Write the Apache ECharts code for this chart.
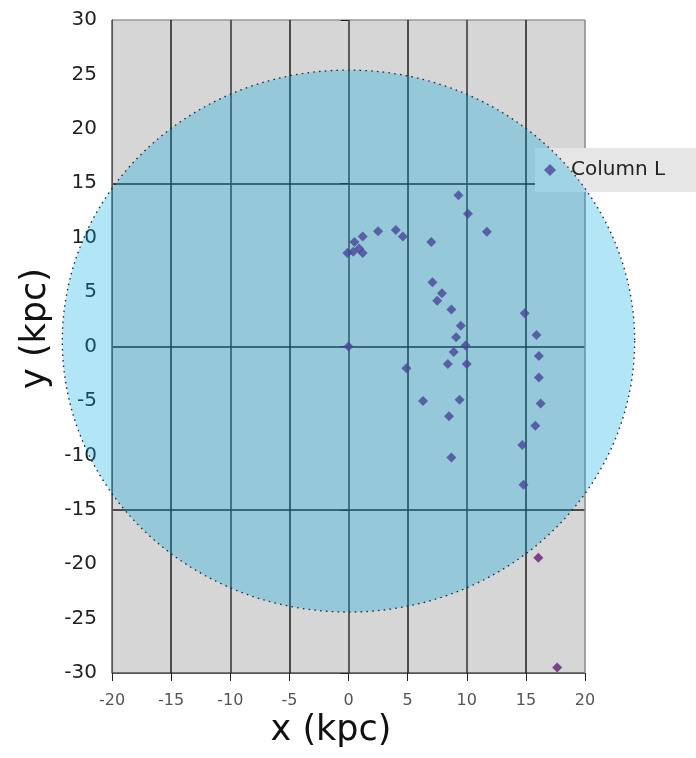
<!DOCTYPE html>
<html>
<head>
<meta charset="utf-8">
<script src="https://cdn.jsdelivr.net/npm/echarts@6/dist/echarts.min.js"></script>
<style>
html,body{margin:0;padding:0;background:#fff;}
#chart{width:696px;height:758px;}
</style>
</head>
<body>
<div id="chart"></div>
<script>
// ---- data ----
var seriesName = 'Column L';
var xValues = [-0.1, 0.4, 0.9, 1.2, 0.5, 1.2, 2.5, 4.0, 4.6, 7.0, 9.3, 10.1, 11.7,
               7.1, 7.9, 7.5, 8.7, 9.5, 9.1, 9.9, 8.9, 8.4, 10.0, 0.0, 4.9, 6.3, 9.4, 8.5, 8.7,
               14.9, 15.9, 16.1, 16.1, 16.25, 15.8, 14.7, 14.8, 16.05, 17.65];
var yValues = [8.6, 8.7, 9.0, 8.6, 9.6, 10.1, 10.6, 10.7, 10.1, 9.6, 13.9, 12.2, 10.55,
               5.9, 4.9, 4.2, 3.4, 1.9, 0.85, 0.1, -0.5, -1.6, -1.6, 0.0, -2.0, -5.0, -4.9, -6.4, -10.2,
               3.05, 1.06, -0.87, -2.84, -5.23, -7.28, -9.06, -12.7, -19.4, -29.5];
// region overlay: centre x, centre y, radius x, radius y (kpc)
var regionEllipse = [0, 0.5, 24.2, 24.9];
var xTicks = [-20, -15, -10, -5, 0, 5, 10, 15, 20];
var yTicks = [-30, -25, -20, -15, -10, -5, 0, 5, 10, 15, 20, 25, 30];

var points = xValues.map(function (x, i) { return [x, yValues[i]]; });

var chart = echarts.init(document.getElementById('chart'), null, {renderer: 'canvas'});
var font = 'DejaVu Sans';
var option = {
  animation: false,
  backgroundColor: '#ffffff',
  grid: {left: 112, right: 111, top: 20, bottom: 85, show: true, backgroundColor: '#d6d6d6', borderWidth: 0},
  legend: {
    zlevel: 0, z: 1,
    data: [seriesName],
    left: 535, top: 148,
    backgroundColor: '#e6e6e6',
    padding: [12, 40, 12, 9],
    itemWidth: 12, itemHeight: 12,
    icon: 'diamond',
    textStyle: {fontFamily: font, fontSize: 20, color: '#222', padding: [0, 0, 0, 10]}
  },
  xAxis: {
    type: 'value', min: xTicks[0], max: xTicks[xTicks.length - 1], interval: 5,
    name: 'x (kpc)', nameLocation: 'middle', nameGap: 40,
    nameTextStyle: {fontFamily: font, fontSize: 35, color: '#111', padding: [0, 35, 0, 0]},
    axisLine: {show: true, onZero: false, lineStyle: {color: '#555', width: 1}},
    axisTick: {show: true, inside: false, length: 8, lineStyle: {color: '#222'}},
    axisLabel: {fontFamily: font, fontSize: 16, color: '#555', margin: 20},
    splitLine: {show: true, lineStyle: {color: ['#555', '#1e1e1e', '#333', '#1e1e1e', '#333', '#1e1e1e', '#333', '#1e1e1e', '#888'], width: 1.5}}
  },
  yAxis: [{
    type: 'value', min: yTicks[0], max: yTicks[yTicks.length - 1], interval: 5,
    name: 'y (kpc)', nameLocation: 'middle', nameGap: 58,
    nameTextStyle: {fontFamily: font, fontSize: 35, color: '#111', padding: [0, 0, 0, 36]},
    axisLine: {show: true, onZero: false, lineStyle: {color: '#555', width: 1}},
    axisTick: {show: false},
    axisLabel: {fontFamily: font, fontSize: 20, color: '#222', margin: 15},
    splitLine: {show: false}
  }, {
    type: 'value', min: yTicks[0], max: yTicks[yTicks.length - 1], interval: 15,
    position: 'left',
    axisLine: {show: false},
    axisTick: {show: true, length: 8, lineStyle: {color: '#222'}},
    axisLabel: {show: false},
    splitLine: {show: true, lineStyle: {color: ['#555', '#1e1e1e', '#1e1e1e', '#1e1e1e', '#999'], width: 1.5}}
  }],
  series: [{
    name: seriesName,
    type: 'scatter',
    symbol: 'diamond',
    symbolSize: 10,
    itemStyle: {color: '#661a78'},
    data: points,
    z: 3
  }, {
    type: 'custom',
    name: 'region',
    zlevel: 2,
    z: 50,
    silent: true,
    clip: false,
    data: [regionEllipse],
    encode: {x: 0, y: 1},
    renderItem: function (params, api) {
      var c = api.coord([api.value(0), api.value(1)]);
      var s = api.size([api.value(2), api.value(3)]);
      return {
        type: 'circle',
        x: c[0], y: c[1],
        scaleX: s[0] / s[1],
        z2: 100,
        shape: {cx: 0, cy: 0, r: s[1]},
        style: {fill: 'rgba(0,172,226,0.30)', stroke: '#1c2a38', lineWidth: 1.3, lineDash: [1.5, 4]}
      };
    }
  }]
};
chart.setOption(option);
</script>
</body>
</html>
